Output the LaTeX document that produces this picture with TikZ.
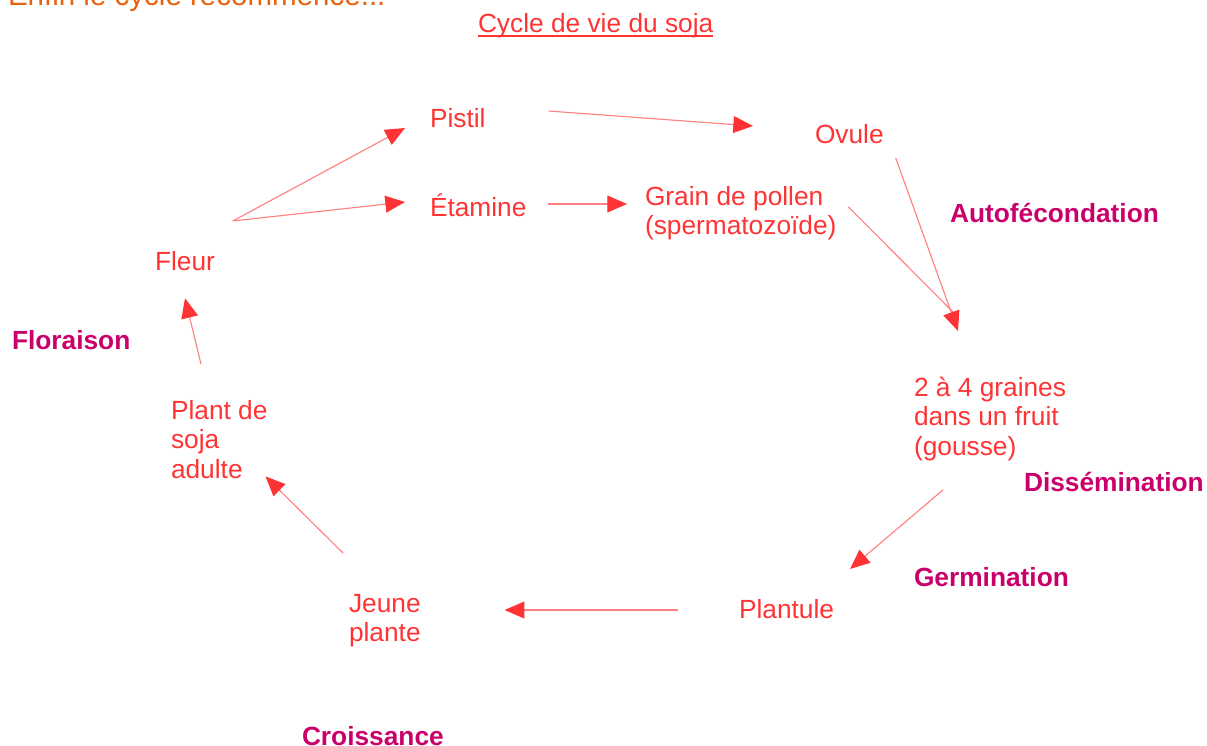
\documentclass[tikz,border=0pt]{standalone}
\usepackage{fontspec}
\setmainfont{Liberation Sans}
\usepackage{tikz}
\usetikzlibrary{arrows.meta}

\definecolor{txtred}{HTML}{FF3333}
\definecolor{linered}{HTML}{FF8080}
\definecolor{tipred}{HTML}{FF3333}
\definecolor{stagemag}{HTML}{C9006B}
\definecolor{noteorange}{HTML}{E8610E}

\begin{document}
\begin{tikzpicture}
        [
            x = 0.025cm, y = -0.025cm,
            txt/.style = {inner sep = 0pt, outer sep = 0pt, text = txtred,
                font = \fontsize{18.7pt}{21pt}\selectfont, align = left},
            stage/.style = {txt, text = stagemag, font = \fontsize{18.7pt}{21pt}\selectfont\bfseries},
            flow/.style = {draw = linered, line width = 0.8pt,
                -{Triangle[length = 14pt, width = 12pt, color = tipred]}},
            flowplain/.style = {draw = linered, line width = 0.8pt}
        ]
        \useasboundingbox (0,0) rectangle (1207,745);

        % notes and title
        \node[txt, anchor = base west, text = noteorange,
            font = \fontsize{21pt}{24pt}\selectfont] (note) at (8,5) {Enfin le cycle recommence...};
        \node[txt, anchor = base west] (title) at (478,32) {Cycle de vie du soja};
        \draw[txtred, line width = 1.4pt] ([shift = {(0,4)}]title.base west) -- ([shift = {(0,4)}]title.base east);

        % stages of the cycle
        \node[txt, anchor = base west] (pistil) at (430,127) {Pistil};
        \node[txt, anchor = base west] (ovule) at (815,143) {Ovule};
        \node[txt, anchor = base west] (etamine) at (430,216) {Étamine};
        \node[txt, anchor = north west] (pollen) at (645,186) {Grain de pollen\\(spermatozoïde)};
        \node[txt, anchor = base west] (fleur) at (155,270) {Fleur};
        \node[txt, anchor = north west] (adulte) at (171,400) {Plant de\\soja\\adulte};
        \node[txt, anchor = north west] (graines) at (914,377) {2 à 4 graines\\dans un fruit\\(gousse)};
        \node[txt, anchor = base west] (plantule) at (739,618) {Plantule};
        \node[txt, anchor = north west] (jeune) at (349,594) {Jeune\\plante};

        % names of the phases
        \node[stage, anchor = base west] (autofec) at (950,222) {Autofécondation};
        \node[stage, anchor = base west] (floraison) at (12,349) {Floraison};
        \node[stage, anchor = base west] (dissem) at (1024,491) {Dissémination};
        \node[stage, anchor = base west] (germ) at (914,586) {Germination};
        \node[stage, anchor = base west] (croiss) at (302,745) {Croissance};

        % connectors
        \draw[flow] ([shift = {(18,-30)}]fleur.north east) -- ([shift = {(-25,1)}]pistil.base west);
        \draw[flow] ([shift = {(18,-30)}]fleur.north east) -- ([shift = {(-25,-14)}]etamine.base west);
        \draw[flow] ([shift = {(63,-16)}]pistil.base east) -- ([shift = {(-62,-17)}]ovule.base west);
        \draw[flow] ([shift = {(22,-12)}]etamine.base east) -- ([shift = {(-18,18)}]pollen.north west);
        \draw[flowplain] ([shift = {(12,21)}]pollen.north east) -- ([shift = {(39,-65)}]graines.north west);
        \draw[flow] ([shift = {(12,15)}]ovule.base east) -- ([shift = {(44,-46)}]graines.north west);
        \draw[flow] ([shift = {(29,29)}]graines.south west) -- ([shift = {(16,-30)}]plantule.north east);
        \draw[flow] ([shift = {(-61,-8)}]plantule.base west) -- ([shift = {(84,16)}]jeune.north east);
        \draw[flow] ([shift = {(-6,-41)}]jeune.north west) -- ([shift = {(-2,-2)}]adulte.south east);
        \draw[flow] ([shift = {(30,-36)}]adulte.north west) -- ([shift = {(30,28)}]fleur.south west);
\end{tikzpicture}
\end{document}
